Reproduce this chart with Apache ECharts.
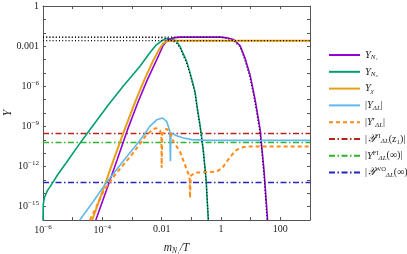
<!DOCTYPE html>
<html><head><meta charset="utf-8">
<script src="https://cdn.jsdelivr.net/npm/echarts@6/dist/echarts.min.js"></script>
<style>html,body{margin:0;padding:0;background:#fff}#c{width:407px;height:254px}</style>
</head><body><div id="c"></div>
<script>
// All points: [log10(m_N1/T), log10(Y)]
const yN1 = [[-4.22,-16],[-3.85,-13.7],[-3.5,-11.5],[-3.16,-9.3],[-2.8,-7.2],[-2.5,-5.6],[-2.17,-4.03],[-1.95,-2.95],[-1.8,-2.55],[-1.6,-2.38],[-1.4,-2.33],[0,-2.33],[0.2,-2.38],[0.42,-2.5],[0.645,-2.97],[0.81,-3.9],[0.98,-5.15],[1.15,-7.0],[1.32,-9.25],[1.45,-12.3],[1.57,-16]];
const yN2 = [[-6,-16],[-5.99,-14.8],[-5.95,-14.3],[-5.85,-13.8],[-5.7,-13.3],[-5.5,-12.6],[-5.21,-11.7],[-4.8,-10.4],[-4.42,-9.25],[-3.8,-7.4],[-3.3,-6.0],[-2.73,-4.5],[-2.4,-3.5],[-2.2,-2.95],[-2.0,-2.6],[-1.83,-2.42],[-1.65,-2.47],[-1.49,-2.66],[-1.38,-3.04],[-1.155,-4.16],[-1.04,-5.02],[-0.875,-6.4],[-0.8,-7.6],[-0.7,-9.0],[-0.6,-10.7],[-0.5,-13],[-0.43,-16]];
const yChi = [[-4.34,-16],[-3.97,-13.7],[-3.62,-11.5],[-3.26,-9.3],[-2.9,-7.2],[-2.6,-5.6],[-2.28,-4.05],[-2.1,-3.3],[-1.95,-2.8],[-1.8,-2.62],[-1.6,-2.59],[3,-2.59]];
const yDL = [[-4.76,-16],[-4.3,-14.6],[-3.86,-13.19],[-3.3,-11.6],[-2.79,-10.2],[-2.56,-9.53],[-2.4,-9.0],[-2.17,-8.51],[-1.97,-8.38],[-1.83,-8.63],[-1.73,-9.3],[-1.705,-11.6],[-1.69,-9.5],[-1.66,-9.58],[-1.49,-9.7],[-1.27,-9.87],[-0.99,-9.99],[-0.48,-10.05],[3,-10.05]];
const yDLp = [[-4.42,-16],[-4.2,-15],[-3.95,-13.8],[-3.6,-12.7],[-3.3,-11.9],[-3.0,-11.1],[-2.73,-10.3],[-2.51,-9.63],[-2.28,-9.2],[-2.19,-9.13],[-2.06,-9.3],[-2.01,-9.6],[-2.0,-12.1],[-1.98,-9.6],[-1.9,-9.25],[-1.83,-9.2],[-1.72,-9.4],[-1.62,-10.07],[-1.38,-10.9],[-1.155,-12.24],[-1.06,-12.76],[-1.044,-14.35],[-1.02,-12.7],[-0.99,-12.6],[-0.875,-12.46],[-0.54,-12.42],[-0.14,-12.38],[0.05,-12.1],[0.196,-11.62],[0.38,-11.1],[0.53,-10.75],[0.757,-10.55],[1.0,-10.5],[3,-10.5]];
const yFIz1 = -9.53, yFIinf = -10.2, yWO = -13.19;
const eqN1 = [[-6,-2.33],[0,-2.33],[0.2,-2.42],[0.42,-2.6],[0.645,-3.05],[0.81,-4.1],[0.98,-5.4],[1.15,-7.3],[1.32,-9.6],[1.45,-12.7],[1.55,-16]];
const eqN2 = [[-6,-2.33],[-2.2,-2.35],[-2.0,-2.38],[-1.83,-2.43],[-1.6,-2.65],[-1.49,-2.8],[-1.38,-3.15],[-1.155,-4.3],[-1.04,-5.15],[-0.875,-6.55],[-0.8,-7.75],[-0.7,-9.15],[-0.6,-10.85],[-0.5,-13.2],[-0.42,-16]];
const eqChi = [[-6,-2.59],[3,-2.59]];
const xTickExp = [-6,-4,-2,0,2];
const xTickText = ['10{sup|−6}','10{sup|−4}','0.01','1','100'];
const yTickExp = [0,-3,-6,-9,-12,-15];
const yTickText = ['1','0.001','10{sup|−6}','10{sup|−9}','10{sup|−12}','10{sup|−15}'];
const names = ['YN1','YN2','Ychi','dL','dLp','FIz1','FIinf','WO'];
const legendText = {
  YN1:'{i|Y}{sub|N₁}', YN2:'{i|Y}{sub|N₂}', Ychi:'{i|Y}{sub|χ}',
  dL:'|{i|Y}{sub|ΔL}|', dLp:'|{i|Y}′{sub|ΔL}|',
  FIz1:'|{i|𝒴}{sup|FI}{sub|ΔL}(z₁)|', FIinf:'|{i|Y}{sup|FI}{sub|ΔL}(∞)|', WO:'|{i|𝒴}{sup|WO}{sub|ΔL}(∞)|'
};

const P = a => a.map(p => [Math.pow(10,p[0]), Math.pow(10,p[1])]);
const H = v => P([[-6,v],[3,v]]);
const FONT = 'Liberation Serif';
const AX = '#555';
const TXT = '#222';

function lab(exps, texts){ return v => { const e = Math.round(Math.log10(v)); const k = exps.indexOf(e); return k>=0 ? texts[k] : ''; }; }
const richLab = { sup:{fontSize:7, fontFamily:FONT, color:TXT, padding:[0,0,6,0]} };

function axisBase(extra){
  return Object.assign({
    type:'log', logBase:10, interval:1,
    axisLine:{show:true, lineStyle:{color:AX, width:1}},
    axisTick:{show:true, inside:true, length:3, lineStyle:{color:AX}},
    splitLine:{show:false}
  }, extra);
}

const series = [
  {name:'FIz1', data:H(yFIz1), color:'#B8241C', lineStyle:{width:1.5, type:[6,2.5,1.5,2.5]}},
  {name:'FIinf', data:H(yFIinf), color:'#2DB52D', lineStyle:{width:1.5, type:[6,2.5,1.5,2.5]}},
  {name:'WO', data:H(yWO), color:'#2424C0', lineStyle:{width:1.5, type:[6,2.5,1.5,2.5]}},
  {name:'YN2', data:P(yN2), color:'#009E73', lineStyle:{width:1.6}},
  {name:'YN1', data:P(yN1), color:'#9400D3', lineStyle:{width:1.6}},
  {name:'Ychi', data:P(yChi), color:'#E6A117', lineStyle:{width:2}},
  {name:'dL', data:P(yDL), color:'#62B8EA', lineStyle:{width:1.6}},
  {name:'dLp', data:P(yDLp), color:'#FF8C1A', lineStyle:{width:2, type:[4,3]}},
  {name:'eqN1', data:P(eqN1), color:'#000', lineStyle:{width:1.1, type:[1,2.2]}},
  {name:'eqN2', data:P(eqN2), color:'#000', lineStyle:{width:1.1, type:[1,2.2]}},
  {name:'eqChi', data:P(eqChi), color:'#000', lineStyle:{width:1.1, type:[1,2.2]}}
].map(s => Object.assign({type:'line', symbol:'none', showSymbol:false, silent:true, clip:true, animation:false}, s));

const chart = echarts.init(document.getElementById('c'), null, {renderer:'canvas'});
chart.setOption({
  animation:false,
  backgroundColor:'#fff',
  grid:{left:43, right:97, top:6, bottom:34, containLabel:false, outerBoundsMode:'none'},
  xAxis:[
    axisBase({position:'bottom', min:1e-6, max:1e3,
      name:'{i|m}{sub|N₁}{i|/T}', nameLocation:'middle', nameGap:21, nameMoveOverlap:false,
      nameTextStyle:{fontFamily:FONT, fontSize:11, color:TXT, rich:{i:{fontFamily:FONT, fontStyle:'italic', fontSize:11.5, color:TXT}, sub:{fontFamily:FONT, fontStyle:'italic', fontSize:7.5, color:TXT, padding:[6,0,0,0]}}},
      axisLabel:{formatter:lab(xTickExp,xTickText), fontFamily:FONT, fontSize:10, color:TXT, margin:4, rich:richLab}}),
    axisBase({position:'top', min:1e-6, max:1e3, axisLabel:{show:false}})
  ],
  yAxis:[
    axisBase({position:'left', min:1e-16, max:1,
      name:'Y', nameLocation:'middle', nameGap:29, nameRotate:90, nameMoveOverlap:false,
      nameTextStyle:{fontFamily:FONT, fontStyle:'italic', fontSize:11.5, color:TXT},
      axisLabel:{formatter:lab(yTickExp,yTickText), fontFamily:FONT, fontSize:10, color:TXT, margin:4, rich:richLab}}),
    axisBase({position:'right', min:1e-16, max:1, axisLabel:{show:false}})
  ],
  legend:{
    data:names, orient:'vertical', left:323, top:42, itemWidth:31, itemHeight:20, itemGap:0.8,
    itemStyle:{opacity:0},
    formatter:n => legendText[n],
    textStyle:{fontFamily:FONT, fontSize:10, color:TXT, padding:[0,0,0,0],
      rich:{i:{fontFamily:FONT, fontStyle:'italic', fontSize:10.5, color:TXT},
            sub:{fontFamily:FONT, fontStyle:'italic', fontSize:7, color:TXT, padding:[5,0,0,0]},
            sup:{fontFamily:FONT, fontSize:6.5, color:TXT, padding:[0,0,6,0]}}},
    selectedMode:false
  },
  series: series
});
</script></body></html>
